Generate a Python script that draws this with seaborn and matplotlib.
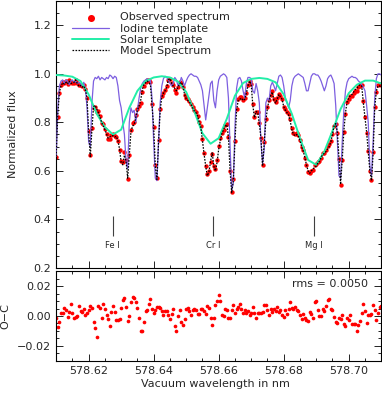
import numpy as np
import pandas as pd
import matplotlib
matplotlib.use("Agg")
import matplotlib.pyplot as plt
import seaborn as sns
from matplotlib.ticker import MultipleLocator, FuncFormatter

# wavelength grid of the observed pixels (nm)
wl_start = 578.610
wl_step = 0.0005
solar_step = 0.0025

iodine_flux = [
    0.66, 0.86, 0.95, 0.97, 0.975, 0.96, 0.975, 0.97, 0.955, 0.97,
    0.975, 0.965, 0.97, 0.96, 0.965, 0.96, 0.95, 0.965, 0.94, 0.86,
    0.72, 0.70, 0.88, 0.97, 0.985, 0.98, 0.99, 0.975, 0.985, 0.98,
    0.975, 0.985, 0.98, 0.995, 0.99, 0.98, 0.99, 0.985, 0.95, 0.89,
    0.86, 0.80, 0.75, 0.64, 0.61, 0.80, 0.86, 0.84, 0.85, 0.80,
    0.85, 0.90, 0.94, 0.96, 0.97, 0.975, 0.98, 0.97, 0.975, 0.90,
    0.72, 0.57, 0.56, 0.72, 0.88, 0.95, 0.98, 0.99, 0.985, 0.975,
    0.96, 0.95, 0.96, 0.985, 0.975, 0.95, 0.96, 0.985, 0.97, 0.95,
    0.97, 0.985, 0.995, 1.0, 0.995, 0.99, 0.99, 0.985, 0.97, 0.955,
    0.93, 0.87, 0.81, 0.86, 0.91, 0.96, 0.97, 0.89, 0.86, 0.93,
    0.975, 0.99, 0.995, 1.0, 0.995, 0.985, 0.90, 0.70, 0.52, 0.55,
    0.78, 0.94, 0.98, 0.985, 0.97, 0.93, 0.90, 0.96, 0.985, 0.985,
    0.98, 0.93, 0.92, 0.96, 0.93, 0.88, 0.72, 0.63, 0.69, 0.88,
    0.90, 0.89, 0.95, 0.965, 0.95, 0.93, 0.96, 0.99, 0.995, 0.985,
    0.95, 0.90, 0.88, 0.86, 0.89, 0.95, 0.98, 0.99, 0.995, 1.0,
    0.995, 0.99, 0.985, 0.96, 0.93, 0.93, 0.96, 0.99, 1.0, 1.0,
    0.995, 0.995, 0.985, 0.97, 0.95, 0.93, 0.95, 0.98, 0.99, 0.995,
    0.98, 0.96, 0.87, 0.72, 0.58, 0.57, 0.72, 0.85, 0.93, 0.965,
    0.98, 0.985, 0.99, 0.985, 0.985, 0.98, 0.97, 0.965, 0.955, 0.945,
    0.93, 0.87, 0.80, 0.62, 0.58, 0.72, 0.90, 0.98, 1.0, 1.0,
    0.995,
]

model_flux = [
    0.66, 0.83, 0.925, 0.95, 0.963, 0.958, 0.965, 0.958, 0.97, 0.96,
    0.962, 0.965, 0.975, 0.96, 0.948, 0.952, 0.945, 0.95, 0.935, 0.90,
    0.76, 0.66, 0.77, 0.865, 0.87, 0.855, 0.84, 0.82, 0.80, 0.785,
    0.77, 0.752, 0.735, 0.74, 0.745, 0.745, 0.74, 0.742, 0.725, 0.69,
    0.635, 0.625, 0.665, 0.64, 0.57, 0.665, 0.76, 0.785, 0.79, 0.82,
    0.85, 0.868, 0.89, 0.935, 0.955, 0.963, 0.97, 0.965, 0.955, 0.87,
    0.78, 0.62, 0.565, 0.72, 0.85, 0.905, 0.92, 0.93, 0.945, 0.975,
    0.98, 0.96, 0.95, 0.94, 0.93, 0.945, 0.96, 0.965, 0.95, 0.915,
    0.897, 0.89, 0.883, 0.875, 0.86, 0.847, 0.84, 0.827, 0.80, 0.78,
    0.725, 0.67, 0.62, 0.58, 0.595, 0.64, 0.675, 0.62, 0.60, 0.635,
    0.69, 0.725, 0.755, 0.77, 0.785, 0.79, 0.74, 0.60, 0.51, 0.56,
    0.72, 0.85, 0.89, 0.895, 0.90, 0.89, 0.895, 0.92, 0.95, 0.97,
    0.955, 0.87, 0.82, 0.845, 0.84, 0.795, 0.735, 0.62, 0.71, 0.805,
    0.86, 0.89, 0.91, 0.925, 0.89, 0.88, 0.895, 0.915, 0.905, 0.895,
    0.865, 0.85, 0.84, 0.83, 0.805, 0.77, 0.75, 0.745, 0.75, 0.745,
    0.725, 0.70, 0.683, 0.655, 0.625, 0.60, 0.59, 0.60, 0.607, 0.615,
    0.62, 0.633, 0.64, 0.655, 0.668, 0.672, 0.68, 0.69, 0.70, 0.72,
    0.75, 0.785, 0.795, 0.76, 0.65, 0.545, 0.645, 0.765, 0.84, 0.885,
    0.90, 0.91, 0.915, 0.925, 0.935, 0.94, 0.95, 0.955, 0.95, 0.88,
    0.82, 0.76, 0.68, 0.60, 0.56, 0.67, 0.86, 0.93, 0.95, 0.95,
    0.945,
]

# observed minus computed
o_minus_c = [
    -0.0015, -0.0075, -0.0037, 0.0021, 0.0021, 0.0056, 0.0039, -0.0009, 0.0028, 0.0077,
    0.0021, -0.0015, -0.0009, 0.0002, 0.0065, 0.0032, 0.0028, 0.0047, 0.0006, 0.0021,
    0.0043, 0.0067, 0.0054, -0.0043, -0.0080, -0.0138, 0.0067, 0.0056, -0.0011, 0.0082,
    0.0045, 0.0004, -0.0022, -0.0069, 0.0028, 0.0067, 0.0030, -0.0026, -0.0030, -0.0022,
    0.0056, 0.0108, 0.0120, 0.0060, -0.0032, 0.0002, 0.0092, 0.0127, 0.0120, 0.0092,
    0.0054, -0.0015, -0.0101, -0.0101, -0.0037, 0.0032, 0.0039, 0.0077, 0.0114, 0.0045,
    0.0021, 0.0039, 0.0058, 0.0060, 0.0056, 0.0032, 0.0006, 0.0034, 0.0034, 0.0006,
    -0.0017, 0.0013, 0.0049, -0.0069, -0.0101, 0.0000, 0.0043, -0.0043, -0.0058, -0.0022,
    0.0049, 0.0054, 0.0032, 0.0006, 0.0043, 0.0049, 0.0039, 0.0011, 0.0011, 0.0047,
    0.0049, 0.0032, 0.0011, 0.0065, 0.0056, -0.0015, -0.0062, -0.0015, 0.0071,
    0.0103, 0.0140, 0.0099, 0.0006, 0.0002, 0.0049, 0.0043, -0.0015, -0.0015, 0.0043,
    0.0075, 0.0017, 0.0045, 0.0058, 0.0082, 0.0049, 0.0021, 0.0043, 0.0021, 0.0032,
    0.0006, 0.0021, 0.0058, 0.0021, -0.0011, 0.0021, 0.0021, 0.0021, 0.0024, 0.0075,
    0.0071, 0.0039, 0.0006, 0.0045, 0.0028, 0.0049, 0.0032, 0.0058, 0.0028, 0.0043,
    0.0006, -0.0006, 0.0037, 0.0013, 0.0049, 0.0092, 0.0054, 0.0049, 0.0060, 0.0043,
    0.0034, 0.0006, -0.0022, 0.0015, -0.0011, -0.0026, -0.0032, 0.0028, 0.0011, -0.0015,
    0.0092, 0.0103, 0.0043, 0.0002, 0.0000, 0.0049, 0.0034, 0.0065, 0.0108, 0.0114,
    0.0049, 0.0039, -0.0009, -0.0037, -0.0047, -0.0015, -0.0022, 0.0006, -0.0054, -0.0069,
    -0.0015, -0.0030, 0.0006, -0.0054, -0.0054, -0.0054, -0.0097, -0.0058, -0.0032, 0.0021,
    0.0077, 0.0032, -0.0047, 0.0006, 0.0006, 0.0011, 0.0071,
    0.0040, -0.0030, 0.0020, 0.0060, 0.0070,
]

solar_flux = [
    0.995, 0.993, 0.988, 0.97, 0.915, 0.835, 0.78, 0.75, 0.77, 0.86,
    0.93, 0.97, 0.985, 0.99, 0.985, 0.968, 0.925, 0.845, 0.755, 0.712,
    0.735, 0.815, 0.91, 0.962, 0.979, 0.983, 0.979, 0.965, 0.915, 0.835,
    0.735, 0.645, 0.625, 0.68, 0.765, 0.855, 0.92, 0.955, 0.972, 0.972,
    0.96,
]

line_ids = ["Fe I", "Cr I", "Mg I"]
line_wl = [578.6274, 578.6582, 578.6892]
rms_text = "rms = 0.0050"

wl = wl_start + wl_step * np.arange(len(model_flux))
spec = pd.DataFrame({"wl": wl, "iodine": iodine_flux, "model": model_flux,
                     "resid": o_minus_c[:len(model_flux)]})
spec["observed"] = spec["model"] + spec["resid"]
solar = pd.DataFrame({"wl": wl_start + solar_step * np.arange(len(solar_flux)),
                      "flux": solar_flux})

sns.set_style("ticks")
plt.rcParams["font.family"] = ["DejaVu Sans"]
plt.rcParams["axes.linewidth"] = 0.8

fig = plt.figure(figsize=(3.82, 3.95), dpi=100)
ax1 = fig.add_axes([0.147, 0.3215, 0.851, 0.676])
ax2 = fig.add_axes([0.147, 0.0861, 0.851, 0.2278])

sns.scatterplot(data=spec, x="wl", y="observed", ax=ax1, color="red", s=10,
                linewidth=0, label="Observed spectrum", zorder=2)
sns.lineplot(data=spec, x="wl", y="iodine", ax=ax1, color="#7d5fe0", lw=0.9,
             label="Iodine template", zorder=3)
sns.lineplot(data=solar, x="wl", y="flux", ax=ax1, color="#22eea8", lw=1.4,
             label="Solar template", zorder=4)
sns.lineplot(data=spec, x="wl", y="model", ax=ax1, color="black", lw=0.9,
             linestyle=(0, (1.3, 1.1)), label="Model Spectrum", zorder=5)

ax1.vlines(line_wl, 0.33, 0.415, color="0.25", lw=0.8)
for name, w in zip(line_ids, line_wl):
    ax1.text(w, 0.293, name, ha="center", va="center", fontsize=6)

ax1.legend(loc="upper left", bbox_to_anchor=(0.05, 0.957), frameon=False,
           fontsize=8, handlelength=3.3, handletextpad=1.0, labelspacing=0.1,
           borderpad=0, borderaxespad=0, markerscale=1.6)

sns.scatterplot(data=spec, x="wl", y="resid", ax=ax2, color="red", s=7,
                linewidth=0)
ax2.text(0.96, 0.855, rms_text, ha="right", va="center", fontsize=8,
         transform=ax2.transAxes)

for ax in (ax1, ax2):
    ax.set_xlim(578.61, 578.71)
    ax.xaxis.set_major_locator(MultipleLocator(0.02))
    ax.xaxis.set_minor_locator(MultipleLocator(0.005))
    ax.tick_params(which="both", direction="in", top=True, right=True,
                   labelsize=8, width=0.6, color="black")
    ax.tick_params(which="major", length=5)
    ax.tick_params(which="minor", length=2.5)
    for s in ax.spines.values():
        s.set_color("black")

ax1.set_ylim(0.2, 1.3)
ax1.yaxis.set_major_locator(MultipleLocator(0.2))
ax1.yaxis.set_minor_locator(MultipleLocator(0.05))
ax1.yaxis.set_major_formatter(FuncFormatter(lambda v, p: f"{v:.1f}"))
ax1.tick_params(labelbottom=False)
ax1.set_xlabel("")
ax1.set_ylabel("Normalized flux", fontsize=8)
ax1.yaxis.set_label_coords(-0.117, 0.5)

ax2.set_ylim(-0.03, 0.03)
ax2.yaxis.set_major_locator(MultipleLocator(0.02))
ax2.yaxis.set_minor_locator(MultipleLocator(0.005))
ax2.yaxis.set_major_formatter(FuncFormatter(lambda v, p: f"{v:.2f}".replace("-", "\u2212")))
ax2.xaxis.set_major_formatter(FuncFormatter(lambda v, p: f"{v:.2f}"))
ax2.set_ylabel("O\u2212C", fontsize=8)
ax2.yaxis.set_label_coords(-0.14, 0.5)
ax2.set_xlabel("Vacuum wavelength in nm", fontsize=8)
ax2.xaxis.set_label_coords(0.49, -0.2)

fig.savefig("out.png", dpi=100)
